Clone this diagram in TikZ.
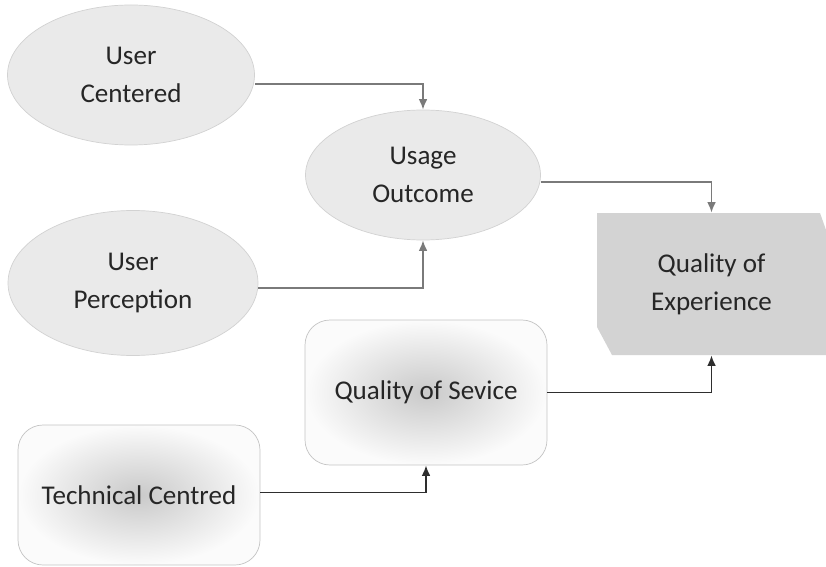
\documentclass[tikz,border=0pt]{standalone}
\usepackage{fontspec}
\setmainfont{Carlito}
\usepackage{tikz}
\usetikzlibrary{shapes.geometric}
\usetikzlibrary{arrows.meta}
\definecolor{txt}{HTML}{262626}
\definecolor{ellfill}{HTML}{EAEAEA}
\definecolor{ellline}{HTML}{D2D2D2}
\definecolor{boxline}{HTML}{C4C4C4}
\definecolor{qoefill}{HTML}{D3D3D3}
\definecolor{lightarr}{HTML}{7A7A7A}
\definecolor{darkarr}{HTML}{2E2E2E}

\begin{document}
\begin{tikzpicture}[
		font=\fontsize{15.4}{21.6}\selectfont, text=txt,
		oval/.style={ellipse, draw=ellline, fill=ellfill, align=center},
		softbox/.style={rectangle, rounded corners=0.5cm, draw=boxline, inner color=gray!42, outer color=white!97!gray},
		lightline/.style={draw=lightarr, line width=1pt, -{Latex[length=6pt,width=5pt]}},
		darkline/.style={draw=darkarr, line width=1pt, -{Latex[length=6pt,width=5pt]}}
	]
			\useasboundingbox (0,0) rectangle (16.52,-11.32);
			\fill[qoefill] (11.94,-4.26) -- (16.40,-4.26) -- (16.52,-4.60) -- (16.52,-7.10) -- (12.24,-7.10) -- (11.94,-6.54) -- cycle;
			\node[oval, minimum width=4.94cm, minimum height=2.8cm] (uc) at (2.62,-1.5) {User\\Centered};
			\node[oval, minimum width=4.7cm, minimum height=2.6cm] (uo) at (8.46,-3.5) {Usage\\Outcome};
			\node[oval, minimum width=5.0cm, minimum height=2.9cm] (up) at (2.66,-5.66) {User\\Perception};
			\node[align=center, minimum width=4.58cm, minimum height=2.84cm] (qoe) at (14.23,-5.68) {Quality of\\Experience};
			\node[softbox, minimum width=4.84cm, minimum height=2.9cm] (qos) at (8.52,-7.85) {Quality of Sevice};
			\node[softbox, minimum width=4.84cm, minimum height=2.8cm] (tc) at (2.78,-9.9) {Technical Centred};
			\draw[lightline] ([yshift=-0.18cm]uc.east) -| (uo.north);
			\draw[lightline] ([yshift=-0.1cm]up.east) -| (uo.south);
			\draw[lightline] ([yshift=-0.14cm]uo.east) -| (qoe.north);
			\draw[darkline] (qos.east) -| (qoe.south);
			\draw[darkline] ([yshift=0.05cm]tc.east) -| (qos.south);
		\end{tikzpicture}
\end{document}
